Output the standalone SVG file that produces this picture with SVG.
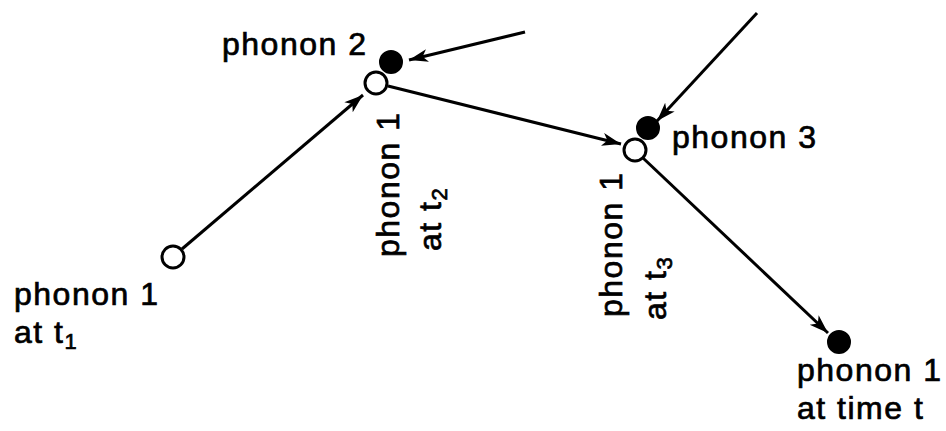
<svg xmlns="http://www.w3.org/2000/svg" width="946" height="431" viewBox="0 0 946 431">
<defs>
<marker id="ah" markerUnits="userSpaceOnUse" markerWidth="22" markerHeight="14" refX="19" refY="6.5" orient="auto">
<path d="M0,0 L19,6.5 L0,13 L5,6.5 Z" fill="#000"/>
</marker>
<style>
.lbl{font-family:"Liberation Sans",Arial,sans-serif;font-size:32px;letter-spacing:1.5px;fill:#000;stroke:#000;stroke-width:0.7}
.sub{font-size:22px}
.open{fill:#fff;stroke:#000;stroke-width:3}
.full{fill:#000;stroke:#000;stroke-width:2}
.edge{stroke:#000;stroke-width:3;fill:none;marker-end:url(#ah)}
</style>
</defs>
<rect width="946" height="431" fill="#fff"/>
<g id="connectors">
<line class="edge" x1="182" y1="249" x2="363" y2="95"/>
<line class="edge" x1="525" y1="32" x2="409" y2="60"/>
<line class="edge" x1="388" y1="86" x2="621" y2="144"/>
<line class="edge" x1="757" y1="13" x2="657" y2="121"/>
<line class="edge" x1="643" y1="158" x2="828" y2="333"/>
</g>
<g id="p1t1">
<circle class="open" cx="173" cy="257" r="11"/>
<text class="lbl" x="14" y="305">phonon 1</text>
<text class="lbl" x="14" y="343">at t<tspan class="sub" dy="6">1</tspan></text>
</g>
<g id="phonon2">
<circle class="full" cx="391" cy="62" r="11"/>
<text class="lbl" x="222" y="55">phonon 2</text>
</g>
<g id="p1t2">
<circle class="open" cx="376" cy="83" r="11"/>
<text class="lbl" transform="translate(399,257) rotate(-90)">phonon 1</text>
<text class="lbl" transform="translate(441,251) rotate(-90)">at t<tspan class="sub" dy="6">2</tspan></text>
</g>
<g id="phonon3">
<circle class="full" cx="648" cy="128" r="11"/>
<text class="lbl" x="672" y="148">phonon 3</text>
</g>
<g id="p1t3">
<circle class="open" cx="635" cy="150" r="11"/>
<text class="lbl" transform="translate(622,317) rotate(-90)">phonon 1</text>
<text class="lbl" transform="translate(666,320) rotate(-90)">at t<tspan class="sub" dy="6">3</tspan></text>
</g>
<g id="p1t">
<circle class="full" cx="839" cy="342" r="11"/>
<text class="lbl" x="797" y="381">phonon 1</text>
<text class="lbl" x="797" y="419">at time t</text>
</g>
</svg>
